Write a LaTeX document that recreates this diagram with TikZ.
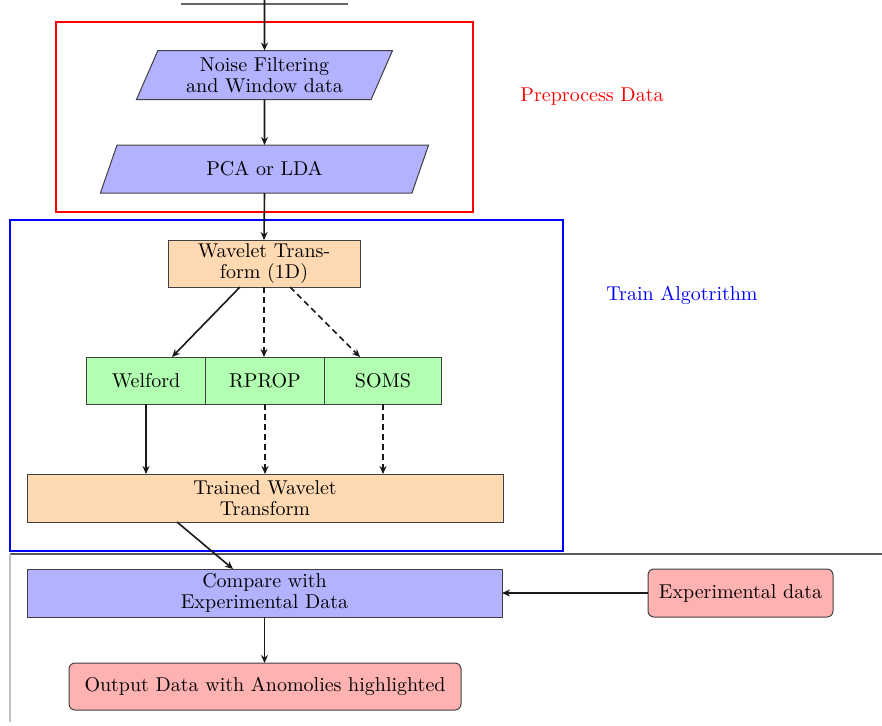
\documentclass[tikz,border=0pt]{standalone}
\usetikzlibrary{shapes.geometric,arrows.meta,positioning}
\begin{document}
\begin{tikzpicture}[x=0.5pt,y=-0.5pt,
  every node/.style={font={\fontsize{10}{10.5}\selectfont}, inner sep=0pt, outer sep=0pt},
  para/.style={trapezium, trapezium left angle=66, trapezium right angle=114, trapezium stretches=true,
    draw=black!75, line width=0.5pt, fill=blue!30, align=center},
  bluebox/.style={rectangle, draw=black!75, line width=0.5pt, fill=blue!30, align=center},
  orangebox/.style={rectangle, draw=black!75, line width=0.5pt, fill=orange!30, align=center},
  greenbox/.style={rectangle, draw=black!75, line width=0.5pt, fill=green!30, align=center},
  redbox/.style={rectangle, rounded corners=3pt, draw=black!75, line width=0.5pt, fill=red!30, align=center},
  arr/.style={-{Stealth[length=4pt,width=3.5pt]}, line width=0.8pt, black!90},
  darr/.style={arr, dash pattern=on 3pt off 2pt}
]
\useasboundingbox (0,0) rectangle (882,725);

% frames and rules
\draw[red, line width=1pt] (56,22) rectangle (473,212);
\draw[blue, line width=1pt] (10,220) rectangle (563,551);
\draw[black!60, line width=0.6pt] (181,4) -- (348,4);
\draw[black!65, line width=1pt] (10,554) -- (882,554);
\draw[black!25, line width=0.6pt] (10,554) -- (10,722);

\node[red] (lblpre) at (592,97) {Preprocess Data};
\node[blue] (lbltrain) at (682,295) {Train Algotrithm};

\coordinate (top) at (264.5,0);
\node[para, minimum width=128.5pt, minimum height=24.5pt] (noise) at (264.5,75) {Noise Filtering\\and Window data};
\node[para, minimum width=164.5pt, minimum height=24pt] (pca) at (264.5,169) {PCA or LDA};

\node[orangebox, minimum width=96pt, minimum height=23.5pt] (wave) at (264,263.5) {Wavelet Trans-\\form (1D)};

\node[greenbox, minimum width=59.5pt, minimum height=23.5pt] (welford) at (146,380.5) {Welford};
\node[greenbox, minimum width=59.5pt, minimum height=23.5pt] (rprop) at (265,380.5) {RPROP};
\node[greenbox, minimum width=58.5pt, minimum height=23.5pt] (soms) at (383,380.5) {SOMS};

\node[orangebox, minimum width=238pt, minimum height=24pt] (trained) at (265,498) {Trained Wavelet\\Transform};

\node[bluebox, minimum width=237.5pt, minimum height=24pt] (compare) at (264.5,593) {Compare with\\Experimental Data};
\node[redbox, minimum width=92.5pt, minimum height=24pt] (exp) at (740.5,593) {Experimental data};
\node[redbox, minimum width=196pt, minimum height=23.5pt] (out) at (265,686.5) {Output Data with Anomolies highlighted};

% connectors
\draw[arr] (top) -- (noise.north);
\draw[arr] (noise.south) -- (pca.north);
\draw[arr] (pca.south) -- (wave.north);
\draw[arr] ([xshift=-12pt]wave.south) -- ([xshift=13pt]welford.north);
\draw[darr] (wave.south) -- (wave.south |- rprop.north);
\draw[darr] ([xshift=13pt]wave.south) -- ([xshift=-11.5pt]soms.north);
\draw[arr] (welford.south) -- (welford.south |- trained.north);
\draw[darr] (rprop.south) -- (rprop.south |- trained.north);
\draw[darr] (soms.south) -- (soms.south |- trained.north);
\draw[arr] ([xshift=-44pt]trained.south) -- ([xshift=-15.75pt]compare.north);
\draw[arr] (exp.west) -- (compare.east);
\draw[arr] (compare.south) -- (compare.south |- out.north);
\end{tikzpicture}
\end{document}
